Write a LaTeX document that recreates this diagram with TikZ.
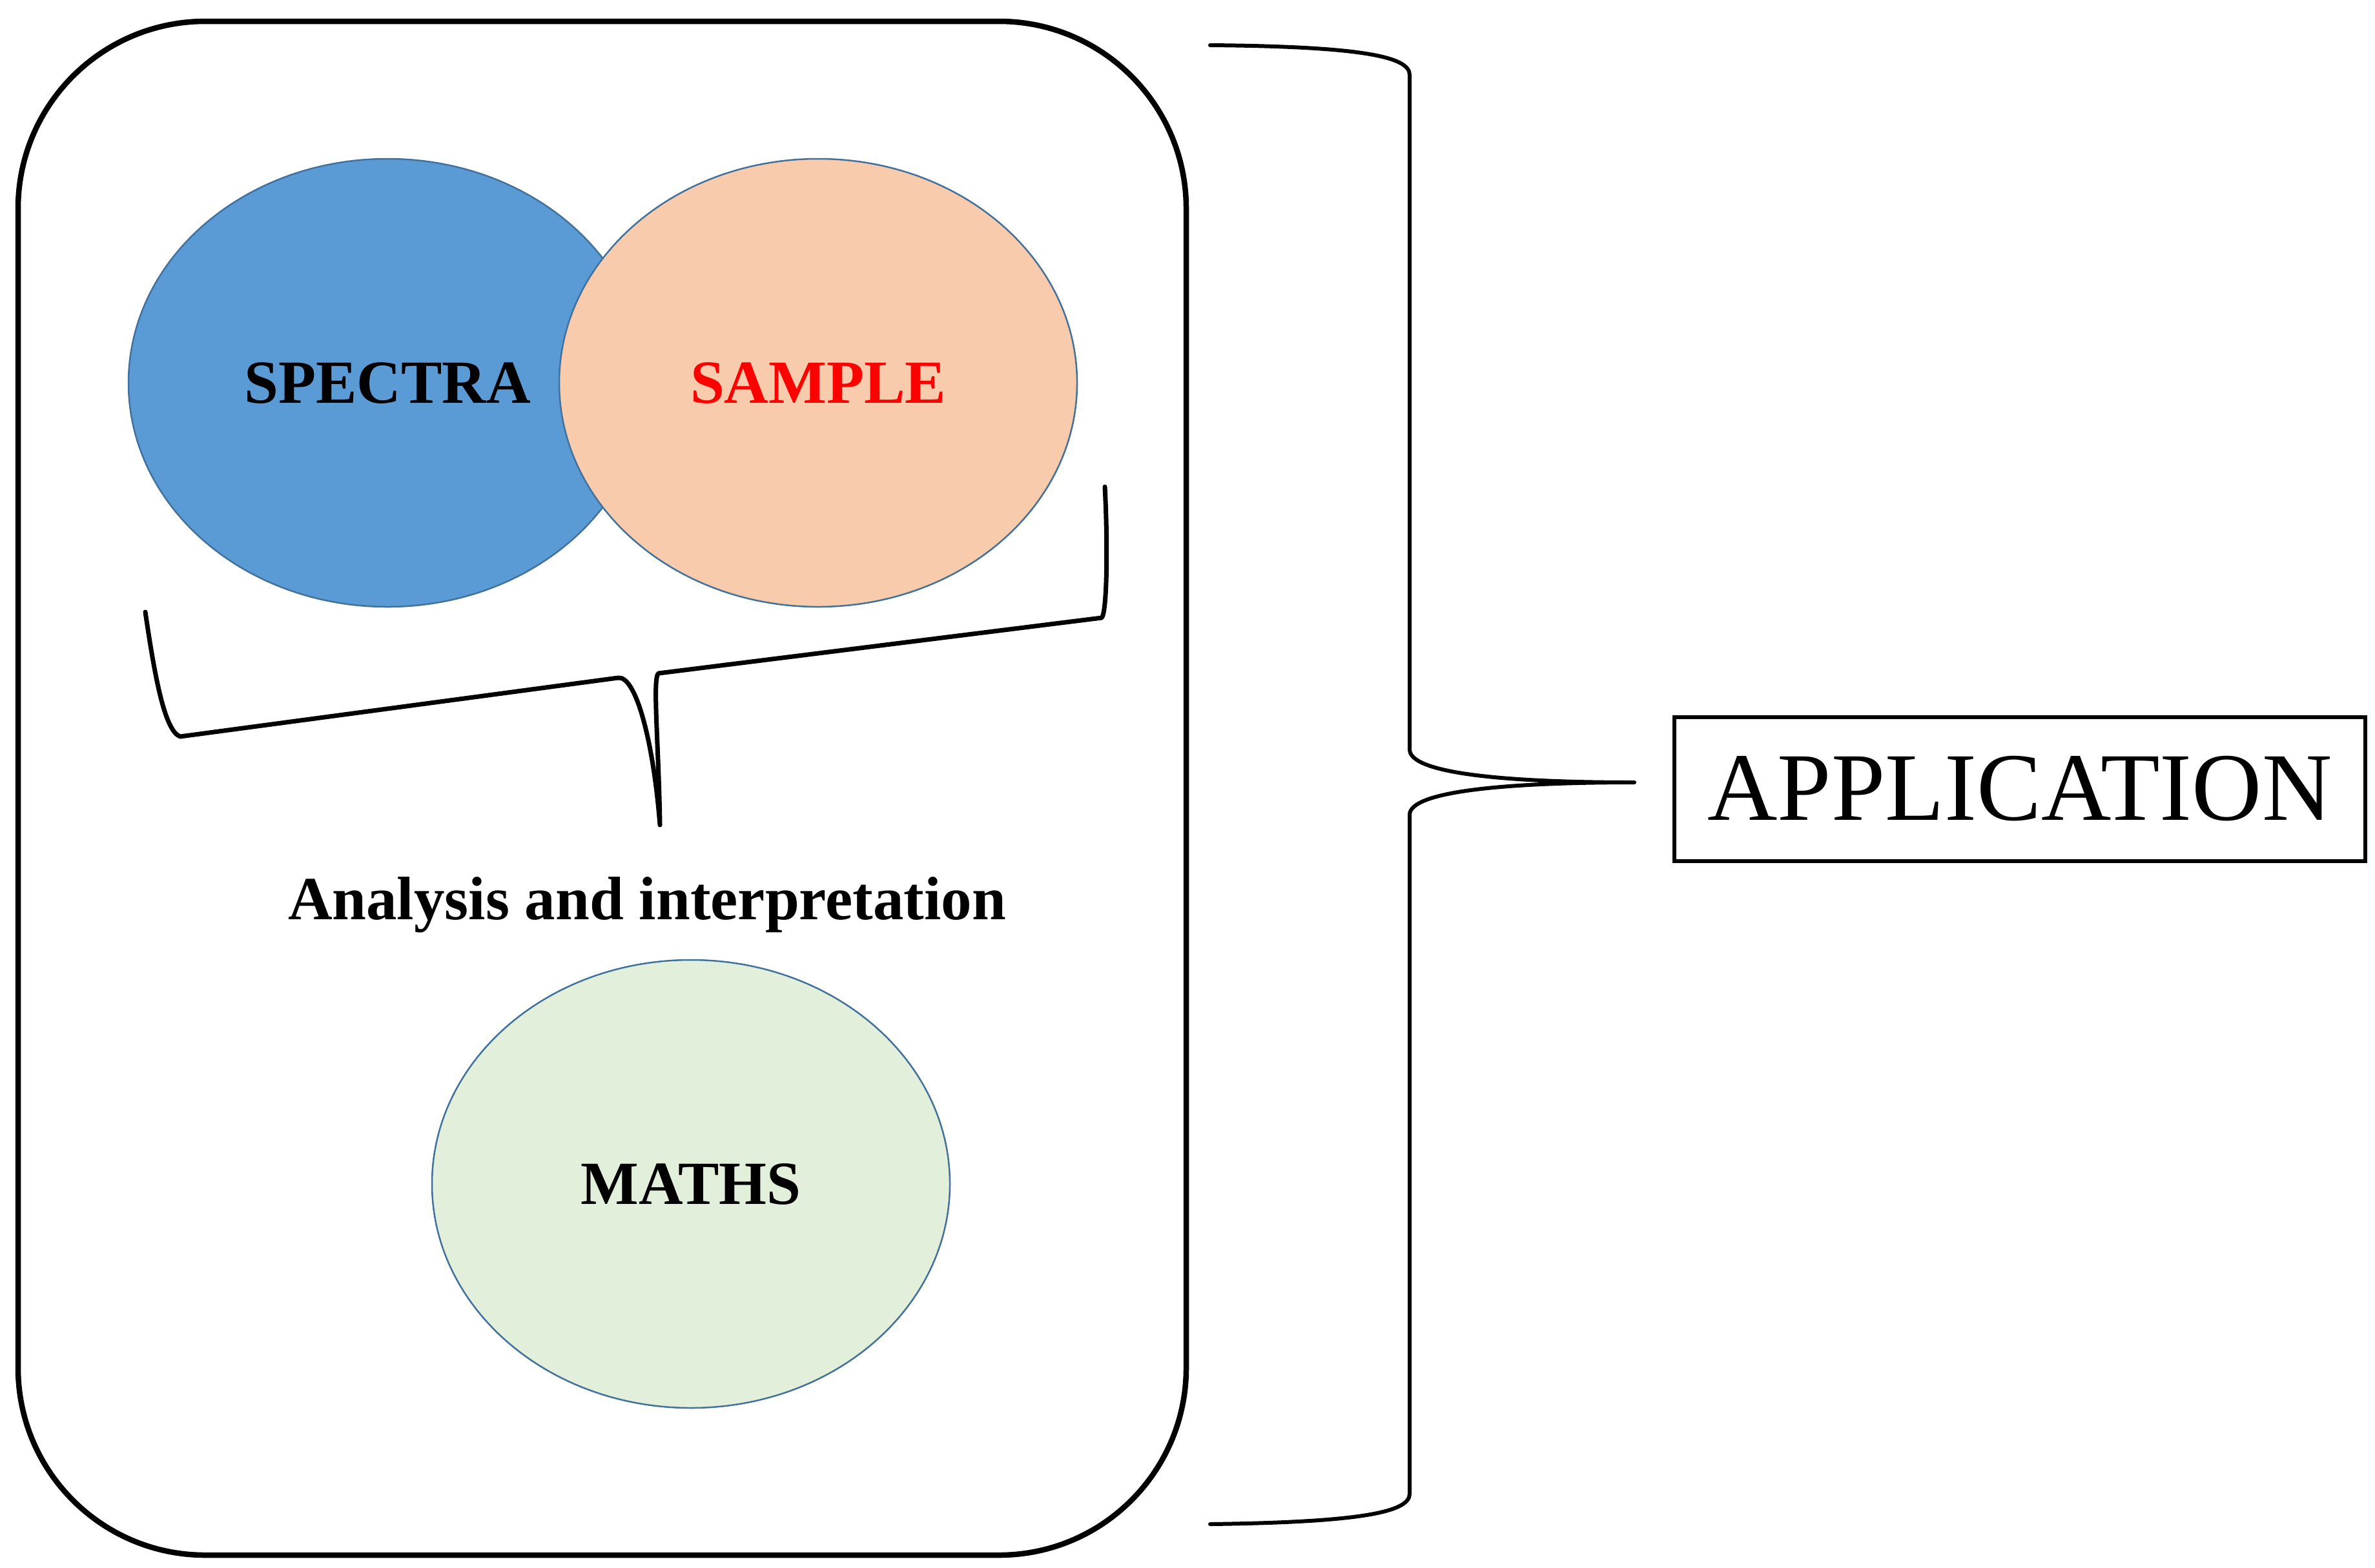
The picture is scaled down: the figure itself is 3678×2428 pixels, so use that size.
\documentclass[tikz,border=0pt]{standalone}
\usepackage{fontspec}
\setmainfont{Liberation Serif}
\usetikzlibrary{shapes.geometric}

\tikzset{every picture/.style={line width=0.75pt}}
\tikzset{
  venn/.style={ellipse, draw={rgb, 255:red, 65; green, 113; blue, 156}, line width=0.5pt,
    minimum width=160.4pt, minimum height=138.8pt, inner sep=0pt,
    font=\bfseries\fontsize{19}{23}\selectfont},
  bracepath/.style={line width=1.3pt, line join=round, line cap=round}
}

\begin{document}
\begin{tikzpicture}[x=0.2pt,y=0.2pt,yscale=-1,xscale=1]
\useasboundingbox (0,0) rectangle (3678,2428);

%Rounded Rect
\draw [line width=1.7pt, rounded corners=58pt] (28,33) rectangle (1837,2409) ;

%Shape: Ellipse
\node [venn, fill={rgb, 255:red, 91; green, 155; blue, 213}] (spectra) at (600,593) {SPECTRA};
%Shape: Ellipse
\node [venn, fill={rgb, 255:red, 248; green, 203; blue, 173}, text={rgb, 255:red, 255; green, 0; blue, 0}] (sample) at (1267,593) {SAMPLE};
%Shape: Ellipse
\node [venn, fill={rgb, 255:red, 226; green, 239; blue, 218}] (maths) at (1070,1834) {MATHS};

%Text
\node [font=\bfseries\fontsize{19}{23}\selectfont] (analysis) at (1002,1402) {Analysis and interpretation};
%Text box
\node [draw, line width=1.2pt, minimum width=214pt, minimum height=44.6pt, inner sep=0pt,
  font=\fontsize{30}{36}\selectfont] (application) at (3128,1222) {APPLICATION};

%Brace under the ellipses
\coordinate (smalltip) at (1022,1278);
\draw [bracepath, line width=1.4pt] (225,948) .. controls (240,1050) and (255,1132) .. (279,1141) -- (957,1050) .. controls (985,1046) and (1012,1150) .. (smalltip) .. controls (1020,1150) and (1010,1048) .. (1020,1043) -- (1706,957) .. controls (1714,950) and (1716,850) .. (1711,754) ;

%Big brace
\coordinate (bigtip) at (2531,1212);
\draw [bracepath, line width=1.2pt] (1874,70) .. controls (2110,72) and (2183,88) .. (2183,116) -- (2183,1161) .. controls (2183,1198) and (2330,1212) .. (bigtip) .. controls (2330,1212) and (2183,1226) .. (2183,1262) -- (2183,2314) .. controls (2183,2342) and (2110,2358) .. (1874,2361) ;

\end{tikzpicture}
\end{document}
